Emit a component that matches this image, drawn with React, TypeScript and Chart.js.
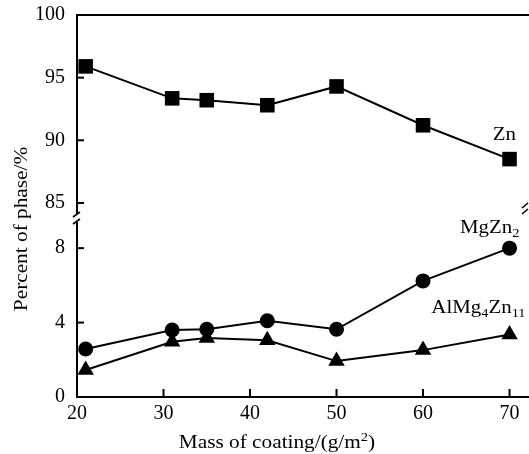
import React, { useEffect, useRef } from "react";
import { Chart, registerables } from "chart.js";

Chart.register(...registerables);

// ---- data ----
const massOfCoating = [21, 31, 35, 42, 50, 60, 70];
const znPercent = [95.9, 93.35, 93.2, 92.8, 94.3, 91.2, 88.5];
const mgZn2Percent = [2.58, 3.6, 3.64, 4.1, 3.64, 6.24, 8.0];
const alMg4Zn11Percent = [1.45, 2.97, 3.17, 3.05, 1.93, 2.52, 3.36];

const xTicks = [20, 30, 40, 50, 60, 70];
const upperTicks = [85, 90, 95, 100];
const lowerTicks = [0, 4, 8];

const FONT = "'Liberation Serif', 'Times New Roman', serif";

const pts = (ys: number[]) => massOfCoating.map((x, i) => ({ x, y: ys[i] }));

type Part = { t: string; sub?: boolean; sup?: boolean };

function drawRich(
  ctx: CanvasRenderingContext2D,
  parts: Part[],
  cx: number,
  baseline: number,
  size: number,
  stretch = 1.1
) {
  const small = Math.round(size * 0.68);
  let w = 0;
  for (const p of parts) {
    ctx.font = `${p.sub || p.sup ? small : size}px ${FONT}`;
    w += ctx.measureText(p.t).width;
  }
  ctx.save();
  ctx.translate(cx, baseline);
  ctx.scale(stretch, 1);
  let x = -w / 2;
  ctx.textAlign = "left";
  ctx.textBaseline = "alphabetic";
  for (const p of parts) {
    ctx.font = `${p.sub || p.sup ? small : size}px ${FONT}`;
    const dy = p.sub ? size * 0.22 : p.sup ? -size * 0.38 : 0;
    ctx.fillText(p.t, x, dy);
    x += ctx.measureText(p.t).width;
  }
  ctx.restore();
}

const decorPlugin = {
  id: "decor",
  afterDraw(chart: any) {
    const { ctx, chartArea } = chart;
    const { left, top, right, bottom } = chartArea;
    const xs = chart.scales.x;
    const yU = chart.scales.yUp;
    const yL = chart.scales.yLow;
    const brk = yU.bottom;
    const line = (x1: number, y1: number, x2: number, y2: number) => {
      ctx.beginPath();
      ctx.moveTo(x1, y1);
      ctx.lineTo(x2, y2);
      ctx.stroke();
    };
    ctx.save();
    ctx.strokeStyle = "#000";
    ctx.fillStyle = "#000";
    ctx.lineWidth = 2;
    ctx.lineCap = "butt";
    // frame
    line(left - 1, top, right, top);
    line(left - 1, bottom, right, bottom);
    line(left, top, left, brk - 4);
    line(left, brk + 4, left, bottom);
    // ticks (inward)
    for (const v of upperTicks) {
      if (v === 100) continue;
      const y = yU.getPixelForValue(v);
      line(left, y, left + 7, y);
    }
    for (const v of lowerTicks) {
      if (v === 0) continue;
      const y = yL.getPixelForValue(v);
      line(left, y, left + 7, y);
    }
    for (const v of xTicks) {
      if (v === 20) continue;
      const x = xs.getPixelForValue(v);
      line(x, bottom, x, bottom - 8);
    }
    // break marks
    ctx.lineWidth = 1.6;
    line(left - 4, brk - 1, left + 3, brk - 6);
    line(left - 4, brk + 6, left + 3, brk + 1);
    line(right - 7, brk - 10, right - 1, brk - 15);
    line(right - 7, brk - 4, right - 1, brk - 9);

    // series labels
    drawRich(ctx, [{ t: "Zn" }], xs.getPixelForValue(69.4), yU.getPixelForValue(90.0), 19);
    drawRich(ctx, [{ t: "MgZn" }, { t: "2", sub: true }], xs.getPixelForValue(67.7), yL.getPixelForValue(8.82), 19);
    drawRich(
      ctx,
      [{ t: "AlMg" }, { t: "4", sub: true }, { t: "Zn" }, { t: "11", sub: true }],
      xs.getPixelForValue(66.4),
      yL.getPixelForValue(4.5),
      19
    );

    // axis titles
    drawRich(ctx, [{ t: "Mass of coating/(g/m" }, { t: "2", sup: true }, { t: ")" }], 277, 448, 19, 1.12);
    ctx.save();
    ctx.translate(27, 229);
    ctx.rotate(-Math.PI / 2);
    drawRich(ctx, [{ t: "Percent of phase/%" }], 0, 0, 19, 1.12);
    ctx.restore();
    ctx.restore();
  },
};

export default function App() {
  const ref = useRef<HTMLCanvasElement | null>(null);
  useEffect(() => {
    if (!ref.current) return;
    const tickFont = { family: FONT, size: 20 };
    const common = {
      type: "linear" as const,
      position: "left" as const,
      stack: "v",
      grid: { display: false, drawTicks: false },
      border: { display: false },
      afterFit: (s: any) => {
        s.width = 77;
        s.paddingTop = 0;
        s.paddingBottom = 0;
      },
    };
    const chart = new Chart(ref.current, {
      type: "line",
      data: {
        datasets: [
          {
            label: "Zn",
            data: pts(znPercent),
            yAxisID: "yUp",
            borderColor: "#000",
            backgroundColor: "#000",
            borderWidth: 2,
            pointStyle: "rect",
            pointRadius: 10.3,
            pointBorderWidth: 0,
            clip: false as any,
          },
          {
            label: "MgZn2",
            data: pts(mgZn2Percent),
            yAxisID: "yLow",
            borderColor: "#000",
            backgroundColor: "#000",
            borderWidth: 2,
            pointStyle: "circle",
            pointRadius: 7.5,
            pointBorderWidth: 0,
            clip: false as any,
          },
          {
            label: "AlMg4Zn11",
            data: pts(alMg4Zn11Percent),
            yAxisID: "yLow",
            borderColor: "#000",
            backgroundColor: "#000",
            borderWidth: 2,
            pointStyle: "triangle",
            pointRadius: 9.5,
            pointBorderWidth: 0,
            clip: false as any,
          },
        ],
      },
      options: {
        responsive: false,
        animation: false,
        events: [],
        layout: { autoPadding: false, padding: { top: 15, left: 0, right: 0, bottom: 0 } },
        plugins: { legend: { display: false }, tooltip: { enabled: false } },
        scales: {
          x: {
            type: "linear",
            min: 20,
            max: 72.25,
            grid: { display: false, drawTicks: false },
            border: { display: false },
            afterBuildTicks: (s: any) => {
              s.ticks = xTicks.map((v) => ({ value: v }));
            },
            ticks: { font: tickFont, color: "#000", padding: 5, maxRotation: 0, autoSkip: false },
            afterFit: (s: any) => {
              s.height = 57;
              s.paddingLeft = 0;
              s.paddingRight = 0;
            },
          },
          yLow: {
            ...common,
            stackWeight: 179,
            min: 0,
            max: 9.62,
            afterBuildTicks: (s: any) => {
              s.ticks = lowerTicks.map((v) => ({ value: v }));
            },
            ticks: { font: tickFont, color: "#000", padding: 12 },
          },
          yUp: {
            ...common,
            stackWeight: 203,
            min: 83.8,
            max: 100,
            afterBuildTicks: (s: any) => {
              s.ticks = upperTicks.map((v) => ({ value: v }));
            },
            ticks: { font: tickFont, color: "#000", padding: 12 },
          },
        } as any,
      },
      plugins: [decorPlugin],
    });
    return () => chart.destroy();
  }, []);
  return (
    <canvas
      ref={ref}
      width={529}
      height={454}
      style={{ position: "fixed", left: 0, top: 0, width: 529, height: 454 }}
    />
  );
}
